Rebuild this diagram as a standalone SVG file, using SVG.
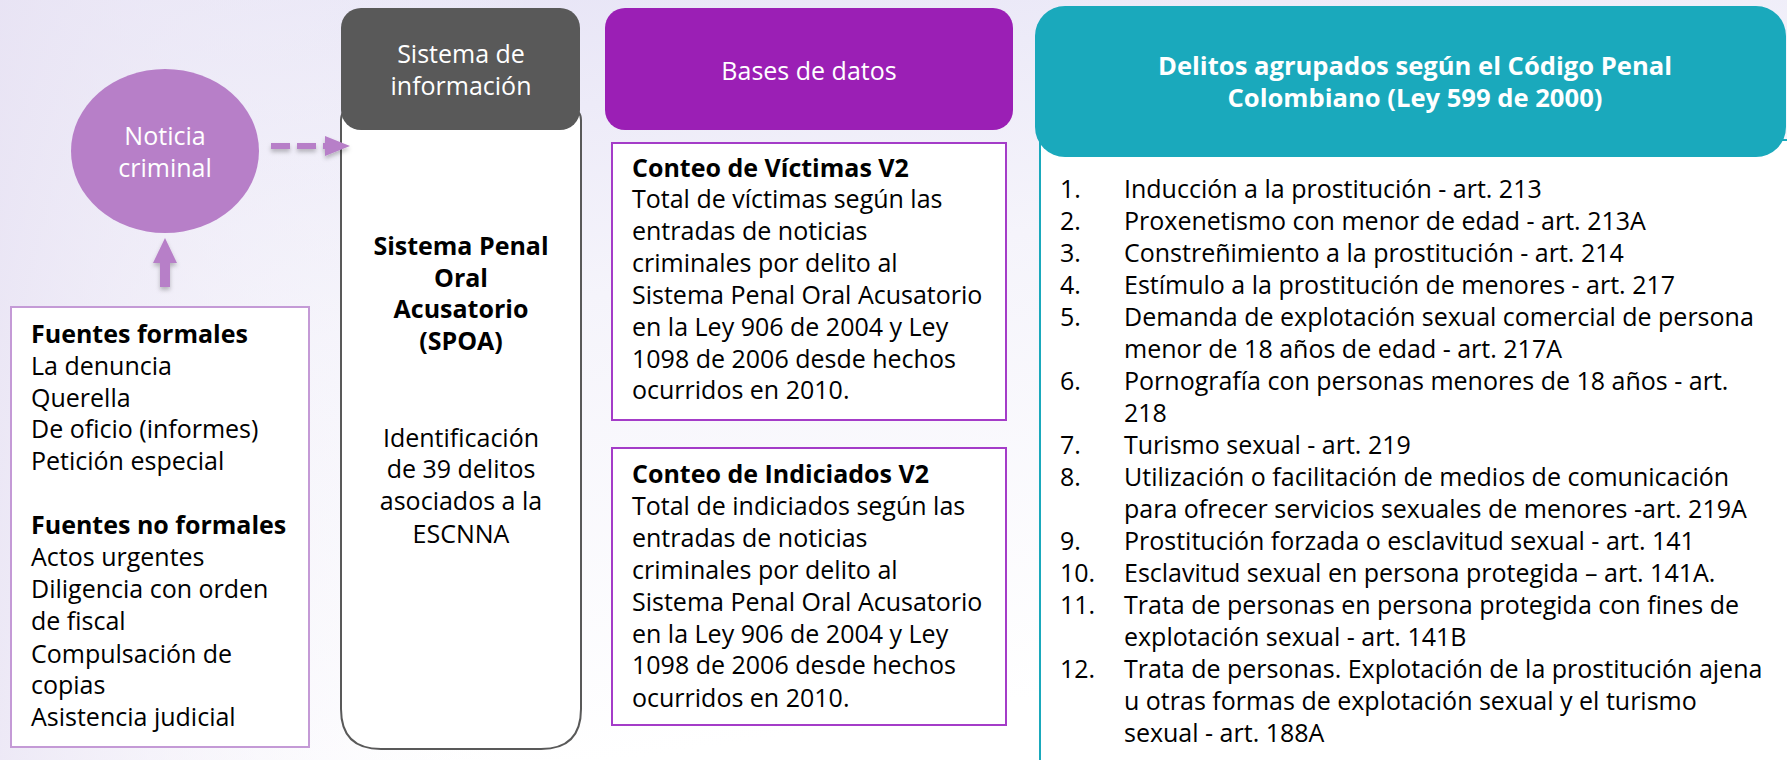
<svg xmlns="http://www.w3.org/2000/svg" width="1787" height="760" viewBox="0 0 1787 760">
<defs>
<linearGradient id="bg" x1="0" y1="0" x2="0.35" y2="1">
<stop offset="0" stop-color="#E5E2F5"/>
<stop offset="0.45" stop-color="#F5F4FB"/>
<stop offset="1" stop-color="#FFFFFF"/>
</linearGradient>
<linearGradient id="bgl" x1="0" y1="0" x2="1" y2="0">
<stop offset="0" stop-color="#E9E4F4" stop-opacity="0.8"/>
<stop offset="0.3" stop-color="#FFFFFF" stop-opacity="0"/>
</linearGradient>
<filter id="sh" x="-20%" y="-20%" width="140%" height="160%">
<feDropShadow dx="0" dy="3" stdDeviation="2" flood-color="#000" flood-opacity="0.25"/>
</filter>
</defs>
<style>
text{font-family:"Open Sans","Noto Sans","DejaVu Sans",sans-serif;font-size:25px;fill:#000}
.w{fill:#FFFFFF}
.b{font-weight:bold}
.c{text-anchor:middle}
.t{font-size:25.6px}
.box{fill:#FFFFFF;stroke-width:2}
.arrow{fill:#B77FC8}
</style>
<rect x="0" y="0" width="1787" height="760" fill="url(#bg)"/>
<rect x="0" y="0" width="1787" height="760" fill="url(#bgl)"/>

<g id="noticia">
<ellipse cx="165" cy="151" rx="94" ry="82" fill="#B77FC8"/>
<text class="w c" x="165" y="145">Noticia</text>
<text class="w c" x="165" y="177">criminal</text>
</g>

<g id="fuentes">
<rect class="box" x="11" y="307" width="298" height="440" stroke="#C49AD6"/>
<text x="31" y="343" class="b">Fuentes formales</text>
<text x="31" y="375">La denuncia</text>
<text x="31" y="407">Querella</text>
<text x="31" y="438">De oficio (informes)</text>
<text x="31" y="470">Petición especial</text>
<text x="31" y="534" class="b">Fuentes no formales</text>
<text x="31" y="566">Actos urgentes</text>
<text x="31" y="598">Diligencia con orden</text>
<text x="31" y="630">de fiscal</text>
<text x="31" y="663">Compulsación de</text>
<text x="31" y="694">copias</text>
<text x="31" y="726">Asistencia judicial</text>
</g>

<g id="spoa">
<path d="M341,120 Q341,110 351,110 L571,110 Q581,110 581,120 L581,709 Q581,749 541,749 L381,749 Q341,749 341,709 Z" fill="#FFFFFF" stroke="#595959" stroke-width="2"/>
<rect x="341" y="8" width="239" height="122" rx="20" fill="#595959"/>
<text class="w c" x="461" y="63">Sistema de</text>
<text class="w c" x="461" y="95">información</text>
<text class="b c" x="461" y="255">Sistema Penal</text>
<text class="b c" x="461" y="287">Oral</text>
<text class="b c" x="461" y="318">Acusatorio</text>
<text class="b c" x="461" y="350">(SPOA)</text>
<text class="c" x="461" y="447">Identificación</text>
<text class="c" x="461" y="478">de 39 delitos</text>
<text class="c" x="461" y="510">asociados a la</text>
<text class="c" x="461" y="543">ESCNNA</text>
</g>

<g id="bases">
<rect x="605" y="8" width="408" height="122" rx="20" fill="#9B1FB5"/>
<text class="w c" x="809" y="80">Bases de datos</text>
</g>

<g id="victimas">
<rect class="box" x="612" y="143" width="394" height="277" stroke="#A43CC8"/>
<text x="632" y="177" class="b">Conteo de Víctimas V2</text>
<text x="632" y="208">Total de víctimas según las</text>
<text x="632" y="240">entradas de noticias</text>
<text x="632" y="272">criminales por delito al</text>
<text x="632" y="304">Sistema Penal Oral Acusatorio</text>
<text x="632" y="336">en la Ley 906 de 2004 y Ley</text>
<text x="632" y="368">1098 de 2006 desde hechos</text>
<text x="632" y="399">ocurridos en 2010.</text>
</g>

<g id="indiciados">
<rect class="box" x="612" y="448" width="394" height="277" stroke="#A43CC8"/>
<text x="632" y="483" class="b">Conteo de Indiciados V2</text>
<text x="632" y="515">Total de indiciados según las</text>
<text x="632" y="547">entradas de noticias</text>
<text x="632" y="579">criminales por delito al</text>
<text x="632" y="611">Sistema Penal Oral Acusatorio</text>
<text x="632" y="643">en la Ley 906 de 2004 y Ley</text>
<text x="632" y="674">1098 de 2006 desde hechos</text>
<text x="632" y="707">ocurridos en 2010.</text>
</g>

<g id="delitos">
<rect x="1040" y="140" width="780" height="640" fill="#FFFFFF" stroke="#1AA9BC" stroke-width="2"/>
<rect x="1035" y="6" width="751" height="151" rx="30" fill="#1AA9BC"/>
<text class="w b c t" x="1415" y="75">Delitos agrupados según el Código Penal</text>
<text class="w b c t" x="1415" y="107">Colombiano (Ley 599 de 2000)</text>
<text x="1060" y="198">1.</text><text x="1124" y="198">Inducción a la prostitución - art. 213</text>
<text x="1060" y="230">2.</text><text x="1124" y="230">Proxenetismo con menor de edad - art. 213A</text>
<text x="1060" y="262">3.</text><text x="1124" y="262">Constreñimiento a la prostitución - art. 214</text>
<text x="1060" y="294">4.</text><text x="1124" y="294">Estímulo a la prostitución de menores - art. 217</text>
<text x="1060" y="326">5.</text><text x="1124" y="326">Demanda de explotación sexual comercial de persona</text>
<text x="1124" y="358">menor de 18 años de edad - art. 217A</text>
<text x="1060" y="390">6.</text><text x="1124" y="390">Pornografía con personas menores de 18 años - art.</text>
<text x="1124" y="422">218</text>
<text x="1060" y="454">7.</text><text x="1124" y="454">Turismo sexual - art. 219</text>
<text x="1060" y="486">8.</text><text x="1124" y="486">Utilización o facilitación de medios de comunicación</text>
<text x="1124" y="518">para ofrecer servicios sexuales de menores -art. 219A</text>
<text x="1060" y="550">9.</text><text x="1124" y="550">Prostitución forzada o esclavitud sexual - art. 141</text>
<text x="1060" y="582">10.</text><text x="1124" y="582">Esclavitud sexual en persona protegida – art. 141A.</text>
<text x="1060" y="614">11.</text><text x="1124" y="614">Trata de personas en persona protegida con fines de</text>
<text x="1124" y="646">explotación sexual - art. 141B</text>
<text x="1060" y="678">12.</text><text x="1124" y="678">Trata de personas. Explotación de la prostitución ajena</text>
<text x="1124" y="710">u otras formas de explotación sexual y el turismo</text>
<text x="1124" y="742">sexual - art. 188A</text>
</g>

<g id="connectors" filter="url(#sh)">
<line x1="271" y1="146" x2="327" y2="146" stroke="#B77FC8" stroke-width="6" stroke-dasharray="19 7"/>
<polygon class="arrow" points="325,136 350,146 325,156"/>
<rect class="arrow" x="160" y="261" width="10" height="26"/>
<polygon class="arrow" points="153,263 177,263 165,238"/>
</g>
</svg>
